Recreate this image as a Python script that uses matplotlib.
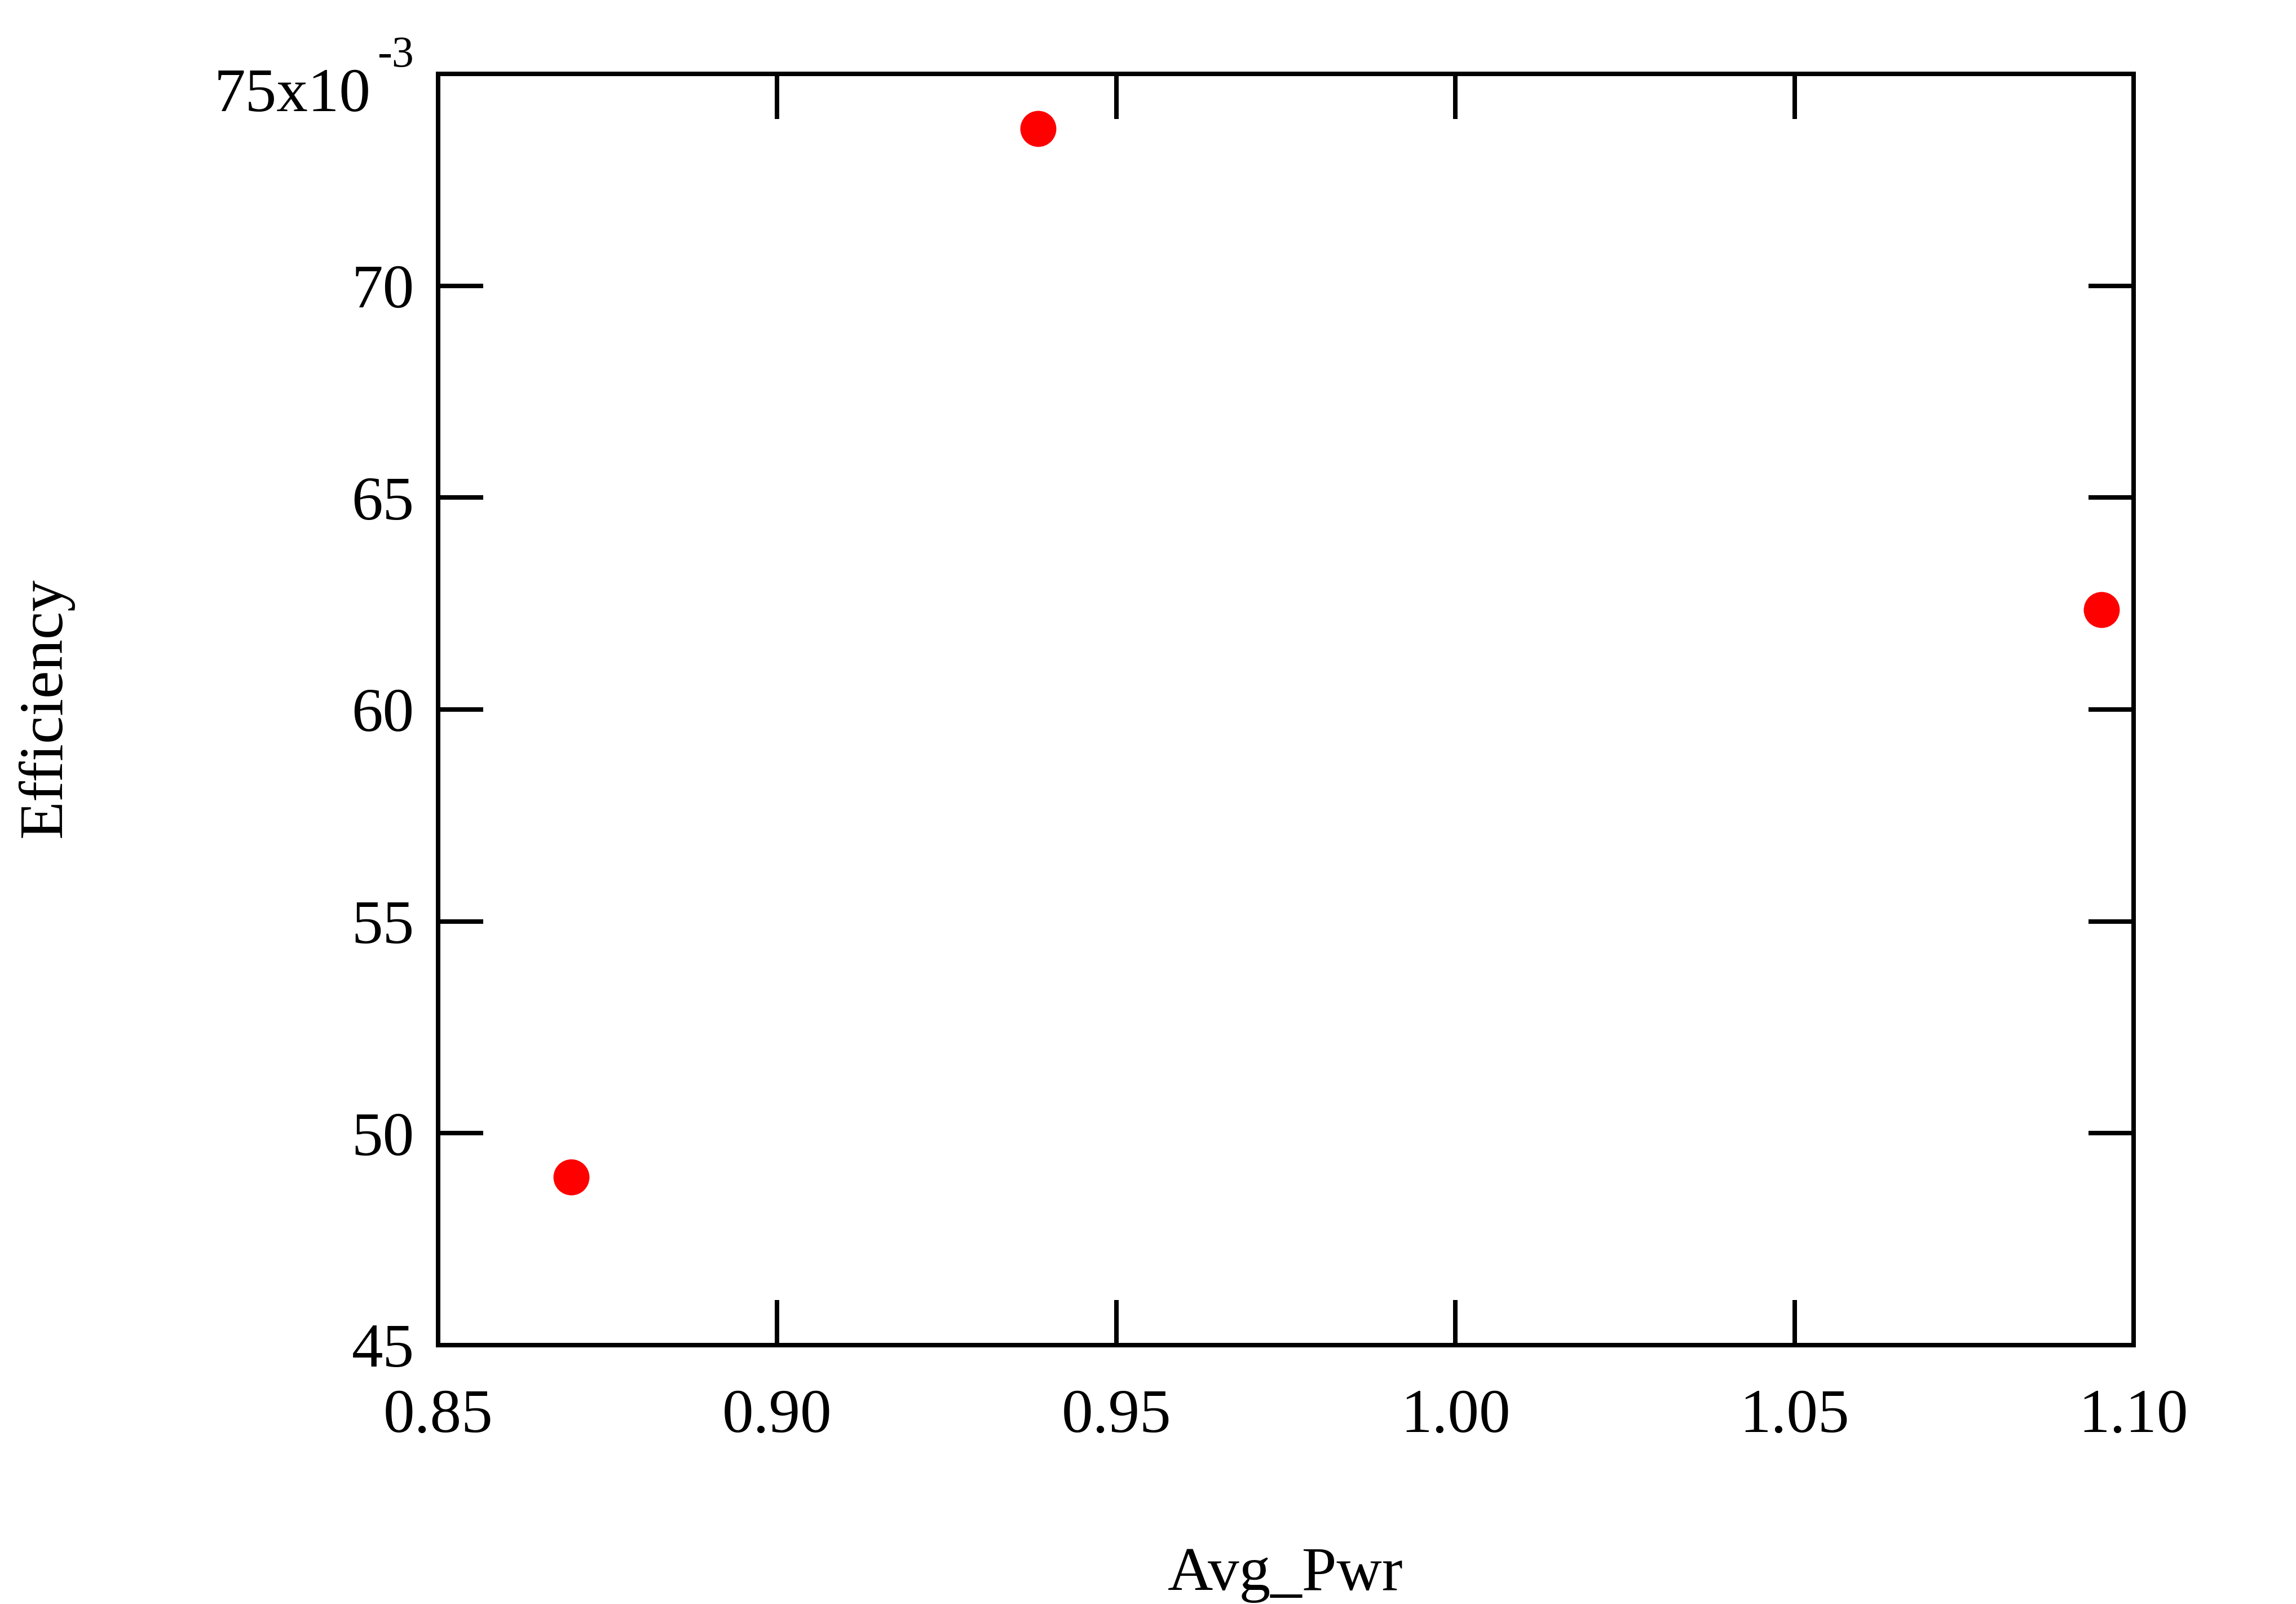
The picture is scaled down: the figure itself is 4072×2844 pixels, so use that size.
import matplotlib
matplotlib.use("Agg")
import matplotlib.pyplot as plt
from matplotlib.ticker import FixedLocator, FuncFormatter

avg_pwr = [0.8696, 0.9385, 1.0953]
efficiency = [0.04897, 0.07371, 0.06235]
x_ticks = [0.85, 0.90, 0.95, 1.00, 1.05, 1.10]
x_tick_labels = ["0.85", "0.90", "0.95", "1.00", "1.05", "1.10"]
y_ticks = [0.045, 0.050, 0.055, 0.060, 0.065, 0.070, 0.075]
y_tick_labels = ["45", "50", "55", "60", "65", "70", ""]
x_label = "Avg_Pwr"
y_label = "Efficiency"

plt.rcParams['font.family'] = ['Liberation Serif', 'DejaVu Serif']

W, H, DPI = 4072, 2844, 400
fig = plt.figure(figsize=(W / DPI, H / DPI), dpi=DPI)
left, right, top, bottom = 777, 3784, 131, 2385
ax = fig.add_axes([left / W, 1 - bottom / H, (right - left) / W, (bottom - top) / H])

ax.plot(avg_pwr, efficiency, linestyle='none', marker='o', markersize=11.5,
        markerfacecolor='#ff0000', markeredgewidth=0, color='#ff0000')

ax.set_xlim(0.85, 1.10)
ax.set_ylim(0.045, 0.075)
ax.xaxis.set_major_locator(FixedLocator(x_ticks))
ax.set_xticklabels(x_tick_labels)
ax.yaxis.set_major_locator(FixedLocator(y_ticks))
ax.set_yticklabels(y_tick_labels)

for sp in ax.spines.values():
    sp.set_linewidth(1.44)
    sp.set_color('black')

ax.tick_params(axis='both', which='major', direction='in', length=14.4, width=1.44,
               labelsize=20, colors='black', top=True, right=True)
ax.tick_params(axis='x', pad=14)
ax.tick_params(axis='y', pad=7.6)

# top y tick label with exponent
ax.text((658 - left) / (right - left), (bottom - 197) / (bottom - top), "75x10",
        transform=ax.transAxes, ha='right', va='baseline', fontsize=20)
ax.text((669 - left) / (right - left), (bottom - 118) / (bottom - top), "-3",
        transform=ax.transAxes, ha='left', va='baseline', fontsize=14)

fig.text(2280 / W, 1 - 2819 / H, x_label, ha='center', va='baseline', fontsize=20)
fig.text(108 / W, 1 - 1255 / H, y_label, ha='center', va='baseline', fontsize=20,
         rotation=90, rotation_mode='anchor')

fig.savefig("out.png", dpi=DPI, facecolor='white')
